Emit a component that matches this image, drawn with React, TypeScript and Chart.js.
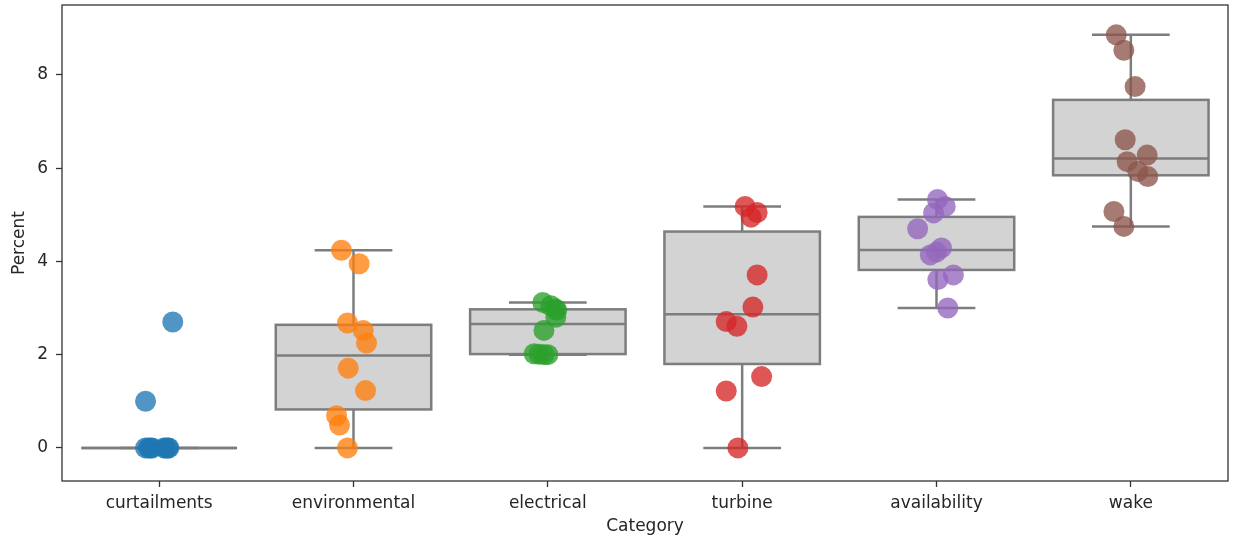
import React, { useEffect, useRef } from "react";
import { Chart, registerables } from "chart.js";

Chart.register(...registerables);

// Loss categories along the x axis
const categories = ["curtailments", "environmental", "electrical", "turbine", "availability", "wake"];

// Percent values per category (ten observations each)
const curtailments = [0, 0, 0, 0, 0, 0, 0, 0, 1.0, 2.7];
const environmental = [4.24, 3.95, 2.68, 2.52, 2.25, 1.71, 1.23, 0.69, 0.49, 0];
const electrical = [3.12, 3.05, 2.98, 2.95, 2.8, 2.52, 2.02, 2.01, 2.0, 2.0];
const turbine = [5.18, 5.05, 4.95, 3.71, 3.02, 2.71, 2.61, 1.53, 1.22, 0];
const availability = [5.33, 5.18, 5.04, 4.7, 4.29, 4.2, 4.14, 3.71, 3.61, 3.0];
const wake = [8.86, 8.53, 7.75, 6.61, 6.14, 6.28, 5.93, 5.82, 5.07, 4.75];

// Horizontal strip jitter for each observation, in category units
const curtailmentsJitter = [-0.07, -0.055, -0.045, -0.035, 0.025, 0.035, 0.045, 0.05, -0.07, 0.07];
const environmentalJitter = [-0.062, 0.029, -0.031, 0.05, 0.067, -0.027, 0.062, -0.087, -0.072, -0.031];
const electricalJitter = [-0.026, 0.015, 0.04, 0.046, 0.041, -0.02, -0.07, -0.045, -0.02, 0.0];
const turbineJitter = [0.015, 0.077, 0.046, 0.077, 0.055, -0.082, -0.027, 0.1, -0.082, -0.022];
const availabilityJitter = [0.005, 0.045, -0.015, -0.097, 0.026, 0.0, -0.032, 0.087, 0.007, 0.058];
const wakeJitter = [-0.075, -0.036, 0.022, -0.029, -0.019, 0.084, 0.036, 0.087, -0.087, -0.036];

const seriesValues = [curtailments, environmental, electrical, turbine, availability, wake];
const seriesJitter = [curtailmentsJitter, environmentalJitter, electricalJitter, turbineJitter, availabilityJitter, wakeJitter];

// Tick labels on the value axis
const yTicks = [0, 2, 4, 6, 8];

const pointColors = [
  "rgba(31,119,180,0.78)",
  "rgba(255,127,14,0.78)",
  "rgba(44,160,44,0.78)",
  "rgba(214,39,40,0.78)",
  "rgba(148,103,189,0.78)",
  "rgba(140,86,75,0.78)",
];

const TEXT = "#262626";
const FONT = "'DejaVu Sans', sans-serif";
const BOX_FILL = "#d3d3d3";
const BOX_LINE = "#7d7d7d";
const BOX_WIDTH = 0.8;

function quantile(sorted: number[], q: number) {
  const pos = (sorted.length - 1) * q;
  const lo = Math.floor(pos);
  const hi = Math.ceil(pos);
  return sorted[lo] + (sorted[hi] - sorted[lo]) * (pos - lo);
}

function boxStats(values: number[]) {
  const s = [...values].sort((a, b) => a - b);
  const q1 = quantile(s, 0.25);
  const med = quantile(s, 0.5);
  const q3 = quantile(s, 0.75);
  const iqr = q3 - q1;
  const hiLimit = q3 + 1.5 * iqr;
  const loLimit = q1 - 1.5 * iqr;
  const whiskerHi = Math.max(...s.filter((v) => v <= hiLimit));
  const whiskerLo = Math.min(...s.filter((v) => v >= loLimit));
  return { q1, med, q3, whiskerHi, whiskerLo };
}

// Draws the box-and-whisker layer underneath the strip points
const boxPlugin = {
  id: "boxes",
  beforeDatasetsDraw(chart: any) {
    const { ctx, chartArea } = chart;
    const xs = chart.scales.x;
    const ys = chart.scales.y;
    ctx.save();
    ctx.beginPath();
    ctx.rect(chartArea.left, chartArea.top, chartArea.right - chartArea.left, chartArea.bottom - chartArea.top);
    ctx.clip();
    ctx.lineWidth = 2.5;
    ctx.strokeStyle = BOX_LINE;
    seriesValues.forEach((vals, i) => {
      const st = boxStats(vals);
      const cx = xs.getPixelForValue(i);
      const x0 = xs.getPixelForValue(i - BOX_WIDTH / 2);
      const x1 = xs.getPixelForValue(i + BOX_WIDTH / 2);
      const c0 = xs.getPixelForValue(i - BOX_WIDTH / 4);
      const c1 = xs.getPixelForValue(i + BOX_WIDTH / 4);
      const yq1 = ys.getPixelForValue(st.q1);
      const yq3 = ys.getPixelForValue(st.q3);
      const ymed = ys.getPixelForValue(st.med);
      const yhi = ys.getPixelForValue(st.whiskerHi);
      const ylo = ys.getPixelForValue(st.whiskerLo);

      // whiskers and caps
      ctx.beginPath();
      ctx.moveTo(cx, yq3);
      ctx.lineTo(cx, yhi);
      ctx.moveTo(cx, yq1);
      ctx.lineTo(cx, ylo);
      ctx.moveTo(c0, yhi);
      ctx.lineTo(c1, yhi);
      ctx.moveTo(c0, ylo);
      ctx.lineTo(c1, ylo);
      ctx.stroke();

      // box
      ctx.fillStyle = BOX_FILL;
      ctx.fillRect(x0, yq3, x1 - x0, yq1 - yq3);
      ctx.strokeRect(x0, yq3, x1 - x0, yq1 - yq3);

      // median
      ctx.beginPath();
      ctx.moveTo(x0, ymed);
      ctx.lineTo(x1, ymed);
      ctx.stroke();
    });
    ctx.restore();
  },
  afterDraw(chart: any) {
    const { ctx, chartArea } = chart;
    ctx.save();
    ctx.strokeStyle = "#333333";
    ctx.lineWidth = 1.3;
    ctx.strokeRect(chartArea.left, chartArea.top, chartArea.right - chartArea.left, chartArea.bottom - chartArea.top);
    ctx.restore();
  },
};

export default function App() {
  const canvasRef = useRef<HTMLCanvasElement | null>(null);

  useEffect(() => {
    if (!canvasRef.current) return;
    const datasets = seriesValues.map((vals, i) => ({
      label: categories[i],
      data: vals.map((v, k) => ({ x: i + seriesJitter[i][k], y: v })),
      backgroundColor: pointColors[i],
      borderWidth: 0,
      pointRadius: 10.5,
      pointHoverRadius: 10.5,
    }));

    const chart = new Chart(canvasRef.current, {
      type: "scatter",
      data: { datasets },
      plugins: [boxPlugin],
      options: {
        animation: false,
        responsive: false,
        devicePixelRatio: 1,
        layout: { autoPadding: false, padding: { top: 5, right: 7, left: 0, bottom: 0 } },
        plugins: {
          legend: { display: false },
          tooltip: { enabled: false },
        },
        scales: {
          x: {
            type: "linear",
            min: -0.5,
            max: 5.5,
            afterBuildTicks: (scale: any) => {
              scale.ticks = categories.map((_, i) => ({ value: i }));
            },
            afterFit: (scale: any) => {
              scale.height = 61;
              scale.paddingLeft = 0;
              scale.paddingRight = 0;
            },
            ticks: {
              autoSkip: false,
              maxRotation: 0,
              padding: 6,
              color: TEXT,
              font: { family: FONT, size: 17 },
              callback: (v: any) => categories[Math.round(Number(v))] ?? "",
            },
            grid: {
              display: true,
              drawOnChartArea: false,
              drawTicks: true,
              tickLength: 6,
              tickColor: "#333333",
              tickWidth: 1.3,
            },
            border: { display: false },
            title: {
              display: true,
              text: "Category",
              color: TEXT,
              font: { family: FONT, size: 17 },
              padding: { top: 0, bottom: 5 },
            },
          },
          y: {
            type: "linear",
            min: -0.71,
            max: 9.5,
            afterBuildTicks: (scale: any) => {
              scale.ticks = yTicks.map((v) => ({ value: v }));
            },
            afterFit: (scale: any) => {
              scale.width = 62;
              scale.paddingTop = 0;
              scale.paddingBottom = 0;
            },
            ticks: {
              padding: 8,
              color: TEXT,
              font: { family: FONT, size: 17 },
              callback: (v: any) => String(v),
            },
            grid: {
              display: true,
              drawOnChartArea: false,
              drawTicks: true,
              tickLength: 6,
              tickColor: "#333333",
              tickWidth: 1.3,
            },
            border: { display: false },
            title: {
              display: true,
              text: "Percent",
              color: TEXT,
              font: { family: FONT, size: 17 },
              padding: { top: 9, bottom: 0 },
            },
          },
        },
      },
    } as any);

    return () => chart.destroy();
  }, []);

  return (
    <div style={{ position: "fixed", left: 0, top: 0, width: 1235, height: 542, background: "#ffffff" }}>
      <canvas ref={canvasRef} width={1235} height={542} style={{ display: "block" }} />
    </div>
  );
}
